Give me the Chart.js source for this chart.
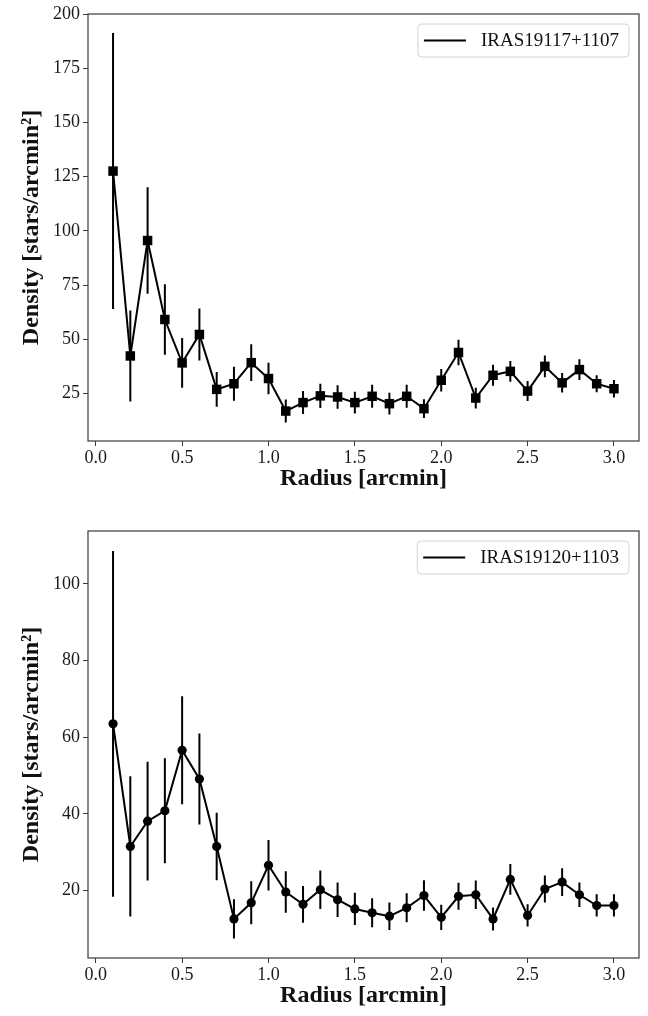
<!DOCTYPE html>
<html><head><meta charset="utf-8">
<script src="https://cdn.jsdelivr.net/npm/chart.js@4/dist/chart.umd.min.js"></script>
<style>html,body{margin:0;padding:0;background:#fff;}canvas{display:block;}</style>
</head><body>
<canvas id="c1" width="648" height="508"></canvas>
<canvas id="c2" width="648" height="508"></canvas>
<script>
// ---- data ----
const radius = [0.1, 0.2, 0.3, 0.4, 0.5, 0.6, 0.7, 0.8, 0.9, 1.0,
                1.1, 1.2, 1.3, 1.4, 1.5, 1.6, 1.7, 1.8, 1.9, 2.0,
                2.1, 2.2, 2.3, 2.4, 2.5, 2.6, 2.7, 2.8, 2.9, 3.0];
const labelA = 'IRAS19117+1107';
const densityA = [127.6, 42.4, 95.6, 59.2, 39.2, 52.3, 27.0, 29.6, 39.3, 32.0,
                  17.0, 20.9, 24.0, 23.5, 20.9, 23.8, 20.4, 23.8, 18.1, 31.2,
                  44.0, 23.0, 33.5, 35.3, 26.2, 37.6, 30.0, 36.1, 29.6, 27.3];
const errorA = [63.6, 21.0, 24.5, 16.3, 11.5, 12.0, 8.0, 7.8, 8.5, 7.3,
                5.3, 5.3, 5.6, 5.4, 5.0, 5.3, 5.0, 5.3, 4.3, 5.2,
                5.9, 4.8, 4.8, 4.8, 4.6, 5.0, 4.5, 4.8, 3.9, 4.0];
const labelB = 'IRAS19120+1103';
const densityB = [63.5, 31.5, 38.1, 40.8, 56.6, 49.1, 31.5, 12.6, 16.8, 26.6,
                  19.6, 16.4, 20.2, 17.6, 15.2, 14.2, 13.3, 15.5, 18.7, 13.0,
                  18.5, 18.9, 12.6, 22.9, 13.5, 20.4, 22.2, 18.9, 16.1, 16.1];
const errorB = [45.1, 18.3, 15.5, 13.7, 14.1, 11.9, 8.8, 5.1, 5.6, 6.6,
                5.4, 4.8, 5.0, 4.5, 4.2, 3.8, 3.6, 3.8, 4.0, 3.3,
                3.5, 3.7, 3.0, 4.0, 2.9, 3.5, 3.6, 3.2, 2.9, 2.9];
const xTicks = [0, 0.5, 1.0, 1.5, 2.0, 2.5, 3.0];
const yTicksA = [25, 50, 75, 100, 125, 150, 175, 200];
const yTicksB = [20, 40, 60, 80, 100];
const xTitle = 'Radius [arcmin]';
const yTitle = 'Density [stars/arcmin\u00B2]';

// ---- helpers ----
const FONT = '"Liberation Serif", "Times New Roman", serif';
const AXIS = '#3a3a3a';

function errorSegments(x, y, e) {
  const pts = [];
  for (let i = 0; i < x.length; i++) {
    pts.push({x: x[i], y: y[i] - e[i]}, {x: x[i], y: y[i] + e[i]}, {x: x[i], y: null});
  }
  return pts;
}
function points(x, y) { return x.map((v, i) => ({x: v, y: y[i]})); }

const framePlugin = {
  id: 'frame',
  afterDraw(chart) {
    const a = chart.chartArea, ctx = chart.ctx;
    ctx.save();
    ctx.strokeStyle = AXIS;
    ctx.lineWidth = 1.2;
    ctx.strokeRect(a.left, a.top, a.right - a.left, a.bottom - a.top);
    ctx.restore();
  }
};

const legendPlugin = {
  id: 'boxLegend',
  afterDraw(chart) {
    const ctx = chart.ctx, a = chart.chartArea;
    const ds = chart.data.datasets[0];
    ctx.save();
    ctx.font = '19px ' + FONT;
    const tw = ctx.measureText(ds.label).width;
    const w = 6 + 42 + 15 + tw + 10, h = 33;
    const x = a.right - 10 - w, y = a.top + 10, r = 4;
    ctx.beginPath();
    ctx.moveTo(x + r, y);
    ctx.lineTo(x + w - r, y); ctx.arcTo(x + w, y, x + w, y + r, r);
    ctx.lineTo(x + w, y + h - r); ctx.arcTo(x + w, y + h, x + w - r, y + h, r);
    ctx.lineTo(x + r, y + h); ctx.arcTo(x, y + h, x, y + h - r, r);
    ctx.lineTo(x, y + r); ctx.arcTo(x, y, x + r, y, r);
    ctx.closePath();
    ctx.fillStyle = 'rgba(255,255,255,0.85)';
    ctx.fill();
    ctx.strokeStyle = '#d4d4d4';
    ctx.lineWidth = 1;
    ctx.stroke();
    ctx.beginPath();
    ctx.moveTo(x + 6, y + h / 2);
    ctx.lineTo(x + 48, y + h / 2);
    ctx.strokeStyle = '#000';
    ctx.lineWidth = 2;
    ctx.stroke();
    ctx.fillStyle = '#111';
    ctx.textBaseline = 'middle';
    ctx.textAlign = 'left';
    ctx.fillText(ds.label, x + 63, y + h / 2 + 1);
    ctx.restore();
  }
};

function makeChart(id, cfg) {
  return new Chart(document.getElementById(id), {
    type: 'scatter',
    data: {
      datasets: [
        {
          label: cfg.label,
          data: points(radius, cfg.density),
          showLine: true,
          borderColor: '#000',
          backgroundColor: '#000',
          borderWidth: 2,
          pointStyle: cfg.marker,
          pointRadius: cfg.markerRadius,
          pointBackgroundColor: '#000',
          pointBorderWidth: 0,
          order: 0
        },
        {
          label: 'error',
          data: errorSegments(radius, cfg.density, cfg.error),
          showLine: true,
          spanGaps: false,
          borderColor: '#000',
          borderWidth: 2,
          pointRadius: 0,
          order: 1
        }
      ]
    },
    options: {
      responsive: false,
      devicePixelRatio: 1,
      animation: false,
      events: [],
      layout: {padding: {left: 0, right: 9, top: cfg.topPad, bottom: 0}},
      plugins: {legend: {display: false}, tooltip: {enabled: false}},
      scales: {
        x: {
          type: 'linear',
          min: -0.045, max: 3.145,
          afterBuildTicks: s => { s.ticks = xTicks.map(v => ({value: v})); },
          afterFit: s => { s.height = cfg.xAxisH; },
          grid: {display: true, drawOnChartArea: false, drawTicks: true, tickLength: 5, color: AXIS, lineWidth: 1},
          border: {display: false},
          ticks: {padding: 1, color: '#1a1a1a', maxRotation: 0, autoSkip: false,
                  font: {family: FONT, size: 18},
                  callback: v => Number(v).toFixed(1)},
          title: {display: true, text: xTitle, color: '#111',
                  font: {family: FONT, size: 24, weight: 'bold'},
                  padding: {top: 0, bottom: cfg.xTitlePad}}
        },
        y: {
          type: 'linear',
          min: cfg.yMin, max: cfg.yMax,
          afterBuildTicks: s => { s.ticks = cfg.yTicks.map(v => ({value: v})); },
          afterFit: s => { s.width = 88; },
          grid: {display: true, drawOnChartArea: false, drawTicks: true, tickLength: 5, color: AXIS, lineWidth: 1},
          border: {display: false},
          ticks: {padding: 3, color: '#1a1a1a', autoSkip: false,
                  font: {family: FONT, size: 18},
                  callback: v => String(Math.round(v))},
          title: {display: true, text: yTitle, color: '#111',
                  font: {family: FONT, size: 24, weight: 'bold'},
                  padding: {top: 17, bottom: 0}}
        }
      }
    },
    plugins: [framePlugin, legendPlugin]
  });
}

makeChart('c1', {label: labelA, density: densityA, error: errorA, marker: 'rect', markerRadius: 6.7,
  yMin: 3.2, yMax: 200, yTicks: yTicksA, topPad: 14, xAxisH: 67, xTitlePad: 15});
makeChart('c2', {label: labelB, density: densityB, error: errorB, marker: 'circle', markerRadius: 4.6,
  yMin: 2.4, yMax: 113.8, yTicks: yTicksB, topPad: 23, xAxisH: 58, xTitlePad: 6});
</script>
</body></html>
